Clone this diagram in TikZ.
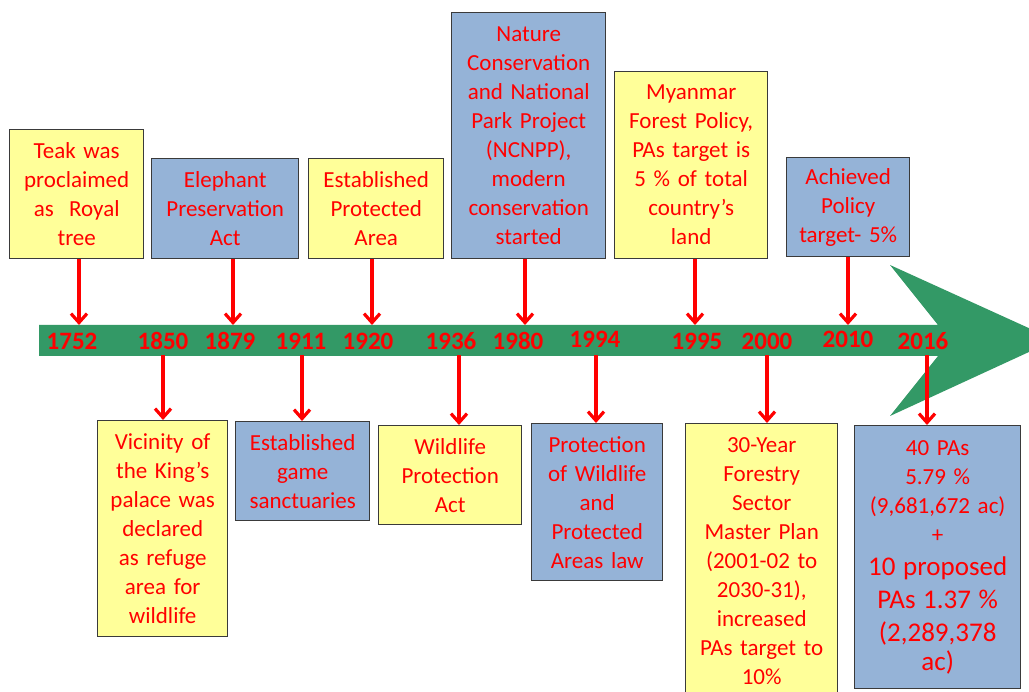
\documentclass[tikz,border=0pt]{standalone}
\usepackage{fontspec}
\setmainfont{Carlito}
\usepackage{tikz}
\usetikzlibrary{arrows.meta,positioning,calc}
\definecolor{bar}{HTML}{339966}
\definecolor{note}{HTML}{FFFF99}
\definecolor{sky}{HTML}{95B3D7}
\definecolor{edge}{HTML}{3A3A3A}
\definecolor{ink}{HTML}{FF0000}
\tikzset{
  blk/.style={draw=edge, line width=1.4pt, inner xsep=0pt, inner ysep=0pt,
              align=center, text=ink, anchor=north west,
              font=\fontsize{23}{29}\selectfont},
  yb/.style={blk, fill=note},
  bb/.style={blk, fill=sky},
  ar/.style={-{Straight Barb[length=9pt,width=16pt]}, line width=3.2pt, draw=ink},
  yr/.style={font=\fontsize{25}{30}\selectfont\bfseries, text=ink,
             anchor=base, inner sep=0pt},
}
\begin{document}
\begin{tikzpicture}[x=1pt, y=-1pt]
  \clip (0,0) rectangle (1029,692);
  \fill[white] (0,0) rectangle (1029,692);

  % --- timeline arrow ---
  \fill[bar] (39,325) -- (938,325) -- (890,265) -- (1055,340)
             -- (890,416) -- (938,356) -- (39,356) -- cycle;

  % --- events above ---
  \node[yb, text width=134pt, minimum height=129pt] (teak) at (9,129)
       {Teak was\\proclaimed\\as \ Royal\\tree};
  \node[bb, text width=147pt, minimum height=100pt] (eleph) at (151,158)
       {Elephant\\Preservation\\Act};
  \node[yb, text width=135pt, minimum height=100pt] (estpa) at (308,158)
       {Established\\Protected\\Area};
  \node[bb, text width=154pt, minimum height=246pt] (ncnpp) at (451,12)
       {Nature\\Conservation\\and National\\Park Project\\(NCNPP),\\modern\\conservation\\started};
  \node[yb, text width=153pt, minimum height=187pt] (policy) at (614,71)
       {Myanmar\\Forest Policy,\\PAs target is\\5 \% of total\\country’s\\land};
  \node[bb, text width=123pt, minimum height=99pt] (achvd) at (786,157)
       {Achieved\\Policy\\target- 5\%};

  % --- events below ---
  \node[yb, text width=130pt, minimum height=216pt] (vicin) at (97,420)
       {Vicinity of\\the King’s\\palace was\\declared\\as refuge\\area for\\wildlife};
  \node[bb, text width=134pt, minimum height=99pt] (game) at (235,421)
       {Established\\game\\sanctuaries};
  \node[yb, text width=143pt, minimum height=99pt] (wlact) at (378,425)
       {Wildlife\\Protection\\Act};
  \node[bb, text width=131pt, minimum height=157pt] (pwpa) at (531,423)
       {Protection\\of Wildlife\\and\\Protected\\Areas law};
  \node[yb, text width=152pt, minimum height=274pt] (plan) at (685,423)
       {30-Year\\Forestry\\Sector\\Master Plan\\(2001-02 to\\2030-31),\\increased\\PAs target to\\10\%};
  \node[bb, text width=166pt, minimum height=263pt] (stat) at (854,425)
       {{40 PAs\\5.79 \%\\(9,681,672 ac)\\+\par}
        \fontsize{27}{33}\selectfont 10 proposed\\PAs 1.37 \%\\(2,289,378\\ac)};

  % --- years ---
  \foreach \y/\x/\b in {1752/72/350, 1850/163/350, 1879/230/350, 1911/301/350,
                        1920/368/350, 1936/451/350, 1980/518/350, 1994/595/348,
                        1995/697/350, 2000/767/350, 2010/848/348, 2016/923/350}
    \node[yr] (y\y) at (\x,\b) {\y};

  % --- connectors ---
  \foreach \n/\x in {teak/79, eleph/233, estpa/372, ncnpp/525, policy/695, achvd/848} {
    \coordinate (t\n) at (\x,325);
    \draw[ar] (\n.south -| t\n) -- (t\n);
  }
  \foreach \n/\x in {vicin/163, game/302, wlact/459, pwpa/596, plan/767, stat/927} {
    \coordinate (b\n) at (\x,355);
    \draw[ar] (b\n) -- (\n.north -| b\n);
  }
\end{tikzpicture}
\end{document}
